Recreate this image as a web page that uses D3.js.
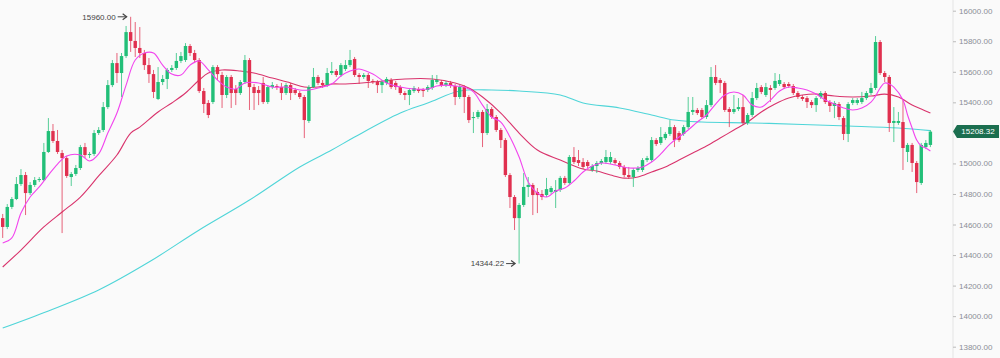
<!DOCTYPE html>
<html><head><meta charset="utf-8">
<script src="https://cdn.jsdelivr.net/npm/d3@7"></script>
<style>
html,body{margin:0;padding:0;background:#fafafa;}
svg{display:block;font-family:"Liberation Sans",Arial,Helvetica,sans-serif;}
</style>
</head><body>
<svg id="chart" width="1000" height="358"></svg>
<script>
// ---- DATA ----
const opens=[14642,14584,14715,14767,14865,14924,14806,14859,14891,14891,
15075,15212,15147,15068,15035,14911,14931,14970,15107,15055,
15062,15199,15219,15369,15513,15657,15592,15703,15860,15802,
15756,15723,15644,15585,15422,15533,15553,15612,15625,15671,
15677,15769,15723,15677,15474,15396,15402,15631,15579,15448,
15566,15487,15461,15533,15677,15500,15481,15527,15402,15500,
15507,15500,15461,15513,15481,15461,15435,15278,15500,15566,
15527,15513,15592,15605,15579,15618,15644,15684,15579,15566,
15579,15540,15533,15513,15527,15546,15527,15500,15461,15448,
15474,15487,15481,15481,15494,15533,15533,15513,15527,15507,
15435,15500,15435,15297,15304,15337,15199,15356,15304,15219,
15153,14924,14780,14642,14728,14846,14859,14813,14800,14793,
14813,14813,14826,14905,14872,15042,15022,15009,15009,14957,
14983,15003,15009,15009,15022,15003,14977,14924,14911,14957,
14957,15022,15022,15153,15134,15166,15193,15238,15199,15193,
15238,15337,15350,15350,15304,15382,15566,15546,15527,15356,
15337,15356,15369,15265,15317,15428,15500,15448,15494,15494,
15520,15520,15520,15507,15461,15435,15428,15402,15382,15435,
15461,15402,15376,15389,15297,15193,15396,15396,15402,15428,
15461,15494,15795,15592,15566,15265,15265,15271,15075,15121,
15003,14872,15107,15121];
const highs=[14669,14734,14780,14911,14963,14944,14878,14911,14911,15134,
15297,15258,15219,15088,15049,14944,14990,15121,15134,15075,
15219,15238,15402,15546,15677,15723,15723,15900,15960,15926,
15893,15743,15690,15612,15631,15579,15625,15644,15723,15730,
15788,15782,15743,15690,15494,15415,15644,15644,15599,15579,
15579,15513,15546,15710,15690,15520,15507,15566,15513,15533,
15520,15527,15527,15527,15494,15474,15448,15513,15625,15579,
15546,15625,15664,15618,15657,15677,15743,15697,15592,15592,
15592,15553,15546,15546,15566,15559,15540,15513,15474,15494,
15507,15500,15494,15513,15579,15579,15546,15540,15540,15520,
15513,15513,15448,15337,15350,15350,15389,15369,15317,15232,
15166,14937,14793,14741,14937,14911,14872,14839,14826,14905,
14852,14891,14918,14918,15055,15107,15088,15035,15022,14996,
15016,15029,15088,15075,15035,15016,14990,14977,14970,14983,
15035,15049,15173,15166,15238,15206,15284,15252,15212,15252,
15435,15435,15363,15363,15415,15631,15644,15559,15540,15369,
15448,15428,15448,15330,15468,15527,15513,15527,15513,15592,
15585,15533,15533,15520,15474,15448,15441,15415,15441,15474,
15474,15415,15409,15402,15310,15402,15428,15428,15468,15474,
15527,15834,15808,15605,15579,15369,15337,15415,15134,15134,
15016,15134,15153,15219];
const lows=[14512,14570,14701,14760,14852,14662,14793,14846,14878,14885,
15068,15134,15062,14544,14905,14852,14918,14957,15035,15035,
15049,15186,15206,15356,15500,15527,15435,15690,15730,15697,
15690,15612,15527,15428,15415,15513,15487,15599,15612,15657,
15664,15703,15657,15461,15330,15297,15389,15546,15363,15428,
15363,15382,15448,15520,15350,15350,15382,15389,15389,15487,
15481,15415,15448,15415,15448,15422,15166,15265,15494,15513,
15494,15500,15579,15566,15566,15605,15631,15566,15520,15553,
15494,15520,15461,15461,15513,15487,15481,15448,15415,15382,
15461,15461,15435,15468,15481,15520,15500,15500,15494,15382,
15422,15330,15265,15199,15291,15107,15186,15291,15206,15101,
14911,14708,14564,14344.22,14715,14780,14662,14675,14760,14780,
14800,14708,14813,14859,14859,14996,14983,14963,14970,14944,
14937,14990,14996,14996,14990,14963,14911,14898,14846,14944,
14944,15009,15009,15114,15121,15153,15180,15107,15140,15180,
15225,15317,15317,15291,15291,15369,15513,15461,15337,15238,
15324,15343,15252,15252,15304,15415,15454,15435,15402,15481,
15507,15487,15494,15448,15422,15409,15363,15363,15337,15422,
15389,15337,15297,15284,15153,15140,15382,15382,15389,15415,
15448,15481,15579,15533,15206,15140,15252,14957,15009,14944,
14806,14859,15094,15107];
const closes=[14584,14715,14767,14865,14924,14806,14859,14891,14898,15075,
15212,15147,15075,15035,14918,14931,14970,15107,15055,15062,
15199,15219,15369,15513,15657,15592,15703,15860,15802,15756,
15723,15644,15585,15468,15533,15553,15612,15625,15671,15703,
15769,15723,15677,15474,15389,15317,15631,15585,15448,15566,
15461,15461,15533,15677,15500,15461,15461,15402,15500,15513,
15500,15461,15513,15461,15461,15435,15284,15500,15566,15527,
15513,15592,15605,15579,15644,15644,15677,15579,15566,15579,
15540,15533,15513,15533,15553,15500,15500,15461,15448,15481,
15494,15474,15474,15500,15546,15546,15513,15527,15507,15435,
15500,15435,15284,15304,15337,15199,15356,15304,15219,15153,
14924,14780,14642,14728,14846,14859,14793,14793,14780,14832,
14839,14826,14905,14872,15042,15009,15003,14977,14983,14983,
15003,15016,15042,15042,15003,14977,14924,14911,14957,14970,
15022,15035,15153,15127,15173,15193,15238,15153,15153,15238,
15337,15350,15330,15304,15382,15566,15527,15527,15350,15337,
15356,15369,15265,15317,15428,15494,15468,15500,15481,15540,
15546,15500,15507,15461,15435,15422,15402,15382,15428,15461,
15402,15376,15396,15304,15193,15389,15415,15415,15428,15461,
15494,15795,15592,15566,15265,15278,15278,15101,15121,15003,
14878,15121,15134,15208.32];

// moving-average lines, read at sampled candle positions
const maFastIdx=[0,2,4,6,8,10,12,14,17,19,21,23,25,27,29,31,33,35,37,39,41,43,45,47,49,51,53,56,59,62,65,67,69,72,74,76,78,81,84,87,90,93,95,97,99,101,103,105,107,109,111,113,115,117,119,121,123,125,127,129,131,134,137,140,142,144,146,148,150,152,154,156,158,160,162,164,166,168,170,172,174,176,178,180,182,184,186,188,190,191,192,193,194,195,197,198,199,200,201,202,203];
const maFastVal=[14479,14512,14675,14780,14846,14924,14996,15049,15055,15016,15062,15199,15330,15513,15677,15723,15723,15644,15585,15579,15644,15671,15612,15546,15500,15487,15527,15527,15500,15500,15481,15481,15494,15520,15572,15605,15618,15585,15527,15500,15487,15487,15507,15513,15507,15500,15468,15382,15304,15271,15173,15042,14878,14806,14780,14819,14839,14885,14944,14983,15003,14990,14970,14977,15009,15062,15127,15173,15219,15271,15317,15389,15448,15468,15448,15382,15369,15415,15474,15500,15494,15481,15454,15415,15389,15363,15350,15363,15402,15441,15494,15527,15520,15500,15415,15317,15232,15153,15114,15101,15081];
const maMidIdx=[0,4,9,13,17,21,25,28,30,34,37,40,43,45,48,52,55,59,63,66,69,72,75,81,88,94,99,102,105,109,113,117,122,127,130,133,136,139,142,145,148,151,154,157,160,163,166,169,172,175,178,182,186,190,193,196,199,201,203];
const maMidVal=[14322,14433,14584,14682,14780,14918,15055,15199,15238,15337,15396,15461,15546,15592,15612,15605,15592,15559,15527,15500,15500,15520,15520,15533,15553,15553,15527,15494,15435,15330,15199,15088,15022,14963,14950,14924,14904,14911,14944,14977,15022,15068,15114,15166,15219,15271,15337,15389,15428,15448,15454,15441,15435,15441,15454,15435,15382,15356,15330];
const maSlowIdx=[0,10,21,32,43,54,65,72,77,87,93,100,107,113,122,127,135,142,147,153,164,175,185,196,203];
const maSlowVal=[13922,14034,14171,14354,14564,14760,14977,15088,15173,15330,15396,15474,15481,15474,15448,15396,15363,15317,15284,15271,15265,15255,15245,15232,15215];

// axis tick labels shown (15200 is hidden behind the last-price label)
const yTicks=[13800,14000,14200,14400,14600,14800,15000,15400,15600,15800,16000];

// ---- CHART ----
const svg=d3.select("#chart");
const W=1000,H=358;
svg.append("rect").attr("width",W).attr("height",H).attr("fill","#fafafa");

const n=opens.length;
const x=d3.scaleLinear().domain([0,n-1]).range([2.7,930.4]);
const y=d3.scaleLinear().domain([13800,16000]).range([346.7,10.7]);
const up="#22bf78", down="#e0304f";
const bodyW=3.4;

const candles=d3.range(n).map(i=>({i,o:opens[i],h:highs[i],l:lows[i],c:closes[i]}));

// right axis
const axisX=953;
svg.append("line").attr("x1",axisX).attr("x2",axisX).attr("y1",0).attr("y2",H)
  .attr("stroke","#e4e4e4").attr("stroke-width",1);
const ax=svg.append("g").attr("transform",`translate(${axisX},0)`)
  .call(d3.axisRight(y).tickValues(yTicks).tickFormat(d3.format(".2f")).tickSize(3).tickPadding(3));
ax.select(".domain").remove();
ax.selectAll(".tick line").attr("stroke","#bbb");
ax.selectAll(".tick text").attr("fill","#8a8e96").attr("font-size",8).attr("font-family","Liberation Sans, Arial, sans-serif");

// MA lines
function maLine(idx,val,color){
  const pts=idx.map((d,k)=>[d,val[k]]);
  svg.append("path").datum(pts)
    .attr("d",d3.line().x(d=>x(d[0])).y(d=>y(d[1])).curve(d3.curveCatmullRom.alpha(0.5)))
    .attr("fill","none").attr("stroke",color).attr("stroke-width",1.1);
}
maLine(maSlowIdx,maSlowVal,"#4fd5d8");
maLine(maMidIdx,maMidVal,"#d9336c");

// candles
const g=svg.append("g");
g.selectAll("line.wick").data(candles).join("line").attr("class","wick")
  .attr("x1",d=>x(d.i)).attr("x2",d=>x(d.i))
  .attr("y1",d=>y(d.h)).attr("y2",d=>y(d.l))
  .attr("stroke",d=>d.c>=d.o?up:down).attr("stroke-width",1).attr("stroke-opacity",0.75);
g.selectAll("rect.body").data(candles).join("rect").attr("class","body")
  .attr("x",d=>x(d.i)-bodyW/2).attr("width",bodyW)
  .attr("y",d=>y(Math.max(d.o,d.c)))
  .attr("height",d=>Math.max(1,Math.abs(y(d.o)-y(d.c))))
  .attr("fill",d=>d.c>=d.o?up:down);

maLine(maFastIdx,maFastVal,"#f244ee");

// high / low marks
const hiI=d3.maxIndex(highs), loI=d3.minIndex(lows);
function mark(i,val){
  const tipX=x(i)-4, yy=y(val);
  const m=svg.append("g");
  m.append("line").attr("x1",tipX-9).attr("x2",tipX).attr("y1",yy).attr("y2",yy)
    .attr("stroke","#444").attr("stroke-width",1);
  m.append("path").attr("d",`M${tipX-4},${yy-3} L${tipX},${yy} L${tipX-4},${yy+3}`)
    .attr("fill","none").attr("stroke","#444").attr("stroke-width",1.2);
  m.append("text").attr("x",tipX-11).attr("y",yy).attr("dy","0.35em")
    .attr("text-anchor","end").attr("font-size",8).attr("fill","#444")
    .text(d3.format(".2f")(val));
}
mark(hiI,highs[hiI]);
mark(loI,lows[loI]);

// last price label
const last=closes[n-1], ly=y(last);
svg.append("path")
  .attr("d",`M${axisX},${ly} L${axisX+4},${ly-6.5} L999,${ly-6.5} L999,${ly+6.5} L${axisX+4},${ly+6.5} Z`)
  .attr("fill","#1b6e4f");
svg.append("text").attr("x",(axisX+4+999)/2).attr("y",ly).attr("dy","0.35em")
  .attr("text-anchor","middle").attr("font-size",8).attr("fill","#fff")
  .text(d3.format(".2f")(last));
</script>
</body></html>
